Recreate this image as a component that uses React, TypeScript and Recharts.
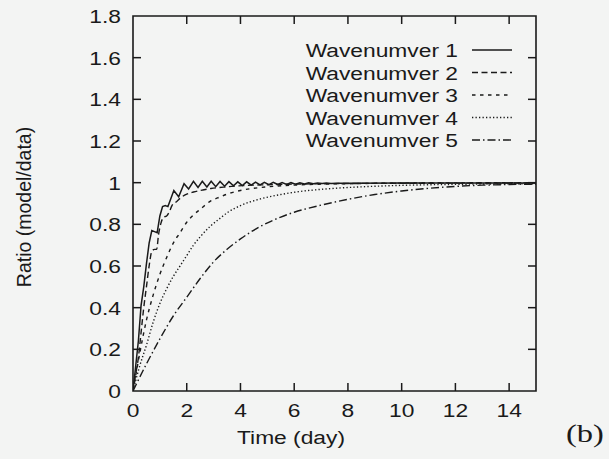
import React from 'react';
import { LineChart, Line, XAxis, YAxis, Legend, ReferenceArea } from 'recharts';

const seriesNames = ['Wavenumver 1', 'Wavenumver 2', 'Wavenumver 3', 'Wavenumver 4', 'Wavenumver 5'];

const wave1Time = [0, 0.1, 0.2, 0.3, 0.4, 0.5, 0.6, 0.7, 0.8, 0.9, 1.0, 1.1, 1.2, 1.3, 1.52, 1.7, 1.9, 2.07, 2.25, 2.42, 2.58, 2.75, 2.91, 3.08, 3.24, 3.41, 3.57, 3.74, 3.9, 4.07, 4.23, 4.4, 4.56, 4.73, 4.89, 5.06, 5.22, 5.39, 5.55, 5.72, 5.88, 6.05, 6.21, 6.38, 6.54, 6.71, 6.87, 7.04, 7.2, 7.37, 7.6, 8, 10, 12, 15];
const wave1Ratio = [0, 0.12, 0.24, 0.41, 0.5, 0.61, 0.71, 0.77, 0.765, 0.76, 0.84, 0.885, 0.89, 0.885, 0.962, 0.932, 0.995, 0.97, 1.006, 0.977, 1.007, 0.979, 1.007, 0.981, 1.006, 0.983, 1.005, 0.985, 1.004, 0.986, 1.004, 0.988, 1.003, 0.989, 1.002, 0.99, 1.002, 0.991, 1.001, 0.992, 1.0, 0.993, 0.999, 0.994, 0.999, 0.995, 0.998, 0.996, 0.998, 0.996, 0.997, 0.997, 0.998, 0.998, 0.999];

const wave2Time = [0, 0.1, 0.2, 0.3, 0.4, 0.5, 0.6, 0.7, 0.8, 0.88, 0.95, 1.05, 1.15, 1.25, 1.35, 1.45, 1.63, 1.8, 2.0, 2.25, 2.6, 2.9, 3.5, 4.1, 5, 6, 8, 10, 15];
const wave2Ratio = [0, 0.08, 0.16, 0.28, 0.4, 0.5, 0.6, 0.67, 0.68, 0.68, 0.75, 0.81, 0.835, 0.84, 0.86, 0.89, 0.91, 0.93, 0.945, 0.955, 0.965, 0.972, 0.98, 0.986, 0.99, 0.993, 0.996, 0.997, 0.999];

const wave3Time = [0, 0.25, 0.5, 0.75, 1.0, 1.25, 1.5, 1.75, 2.0, 2.25, 2.5, 2.87, 3.25, 3.5, 4.1, 5, 6, 7, 8, 10, 12, 15];
const wave3Ratio = [0, 0.18, 0.34, 0.46, 0.56, 0.64, 0.71, 0.76, 0.81, 0.845, 0.872, 0.91, 0.932, 0.945, 0.965, 0.98, 0.988, 0.993, 0.995, 0.998, 0.999, 1.0];

const wave4Time = [0, 0.25, 0.5, 0.75, 1.0, 1.25, 1.5, 1.75, 2.0, 2.25, 2.5, 2.87, 3.25, 3.5, 4, 4.74, 5.5, 6, 7, 8.5, 10, 12, 15];
const wave4Ratio = [0, 0.12, 0.22, 0.33, 0.42, 0.49, 0.55, 0.6, 0.65, 0.7, 0.74, 0.79, 0.83, 0.855, 0.89, 0.922, 0.943, 0.954, 0.968, 0.98, 0.987, 0.992, 0.995];

const wave5Time = [0, 0.5, 1.0, 1.5, 2.0, 2.5, 3.0, 3.5, 4.0, 4.74, 5.5, 6, 7, 8, 9, 10, 11, 12, 13, 14, 15];
const wave5Ratio = [0, 0.13, 0.25, 0.36, 0.45, 0.54, 0.62, 0.68, 0.73, 0.79, 0.835, 0.858, 0.892, 0.92, 0.943, 0.96, 0.973, 0.982, 0.988, 0.991, 0.993];

const xTicks = [0, 2, 4, 6, 8, 10, 12, 14];
const yTicks = [0, 0.2, 0.4, 0.6, 0.8, 1, 1.2, 1.4, 1.6, 1.8];

const zip = (ts: number[], vs: number[]) => ts.map((t, i) => ({ t, v: vs[i] }));
const series = [
  { name: seriesNames[0], data: zip(wave1Time, wave1Ratio), dash: undefined as string | undefined, type: 'linear', w: 1.5 },
  { name: seriesNames[1], data: zip(wave2Time, wave2Ratio), dash: '6 3.5', type: 'monotone', w: 1.4 },
  { name: seriesNames[2], data: zip(wave3Time, wave3Ratio), dash: '3.5 4.5', type: 'monotone', w: 1.4 },
  { name: seriesNames[3], data: zip(wave4Time, wave4Ratio), dash: '1.3 2.2', type: 'monotone', w: 1.4 },
  { name: seriesNames[4], data: zip(wave5Time, wave5Ratio), dash: '8 3 1.5 3', type: 'monotone', w: 1.4 },
];

const INK = '#1a1a1a';
const FONT = '"Liberation Sans", Arial, Helvetica, sans-serif';
const SX = 1.2;
const FS = 19;
const TICK = 8;
const CHART_W = 609;
const CHART_H = 459;
const M = { top: 16, right: 73, bottom: 0, left: 0 };
const X_AXIS_H = 68;
const Y_AXIS_W = 133;
const PLOT_LEFT = M.left + Y_AXIS_W;
const PLOT_RIGHT = CHART_W - M.right;
const PLOT_TOP = M.top;
const PLOT_BOTTOM = CHART_H - M.bottom - X_AXIS_H;

const BottomTick = (p: any) => {
  const { x, payload } = p;
  const edge = payload.value !== 0;
  return (
    <g>
      {edge && <line x1={x} y1={PLOT_BOTTOM} x2={x} y2={PLOT_BOTTOM - TICK} stroke={INK} strokeWidth={1.5} />}
      {edge && <line x1={x} y1={PLOT_TOP} x2={x} y2={PLOT_TOP + TICK} stroke={INK} strokeWidth={1.5} />}
      <text transform={`translate(${x},${PLOT_BOTTOM + 26}) scale(${SX},1)`} textAnchor="middle" fontSize={FS} fontFamily={FONT} fill={INK}>
        {String(payload.value)}
      </text>
    </g>
  );
};
const LeftTick = (p: any) => {
  const { y, payload } = p;
  const edge = payload.value !== 0 && payload.value !== 1.8;
  return (
    <g>
      {edge && <line x1={PLOT_LEFT} y1={y} x2={PLOT_LEFT + TICK} y2={y} stroke={INK} strokeWidth={1.5} />}
      {edge && <line x1={PLOT_RIGHT} y1={y} x2={PLOT_RIGHT - TICK} y2={y} stroke={INK} strokeWidth={1.5} />}
      <text transform={`translate(${PLOT_LEFT - 12},${y + 7}) scale(${SX},1)`} textAnchor="end" fontSize={FS} fontFamily={FONT} fill={INK}>
        {String(payload.value)}
      </text>
    </g>
  );
};

const XTitle = () => (
  <text transform={`translate(291,444) scale(${SX},1)`} textAnchor="middle" fontSize={FS} fontFamily={FONT} fill={INK}>
    Time (day)
  </text>
);
const YTitle = () => (
  <text transform="translate(31,207) rotate(-90)" textAnchor="middle" fontSize={19.5} fontFamily={FONT} fill={INK}>
    Ratio (model/data)
  </text>
);

const LegendBox = () => {
  const rowY = [12, 34.5, 57, 79.5, 102];
  return (
    <svg width={230} height={120} style={{ display: 'block' }}>
      {series.map((s, i) => (
        <g key={s.name}>
          <text transform={`translate(155,${rowY[i] + 7}) scale(${SX},1)`} textAnchor="end" fontSize={FS} fontFamily={FONT} fill={INK}>
            {s.name}
          </text>
          <line x1={169} y1={rowY[i]} x2={209} y2={rowY[i]} stroke={INK} strokeWidth={1.4} strokeDasharray={s.dash} />
        </g>
      ))}
    </svg>
  );
};

export default function App() {
  return (
    <div style={{ position: 'absolute', left: 0, top: 0, width: CHART_W, height: CHART_H, background: '#f3f4f3', overflow: 'hidden' }}>
      <LineChart width={CHART_W} height={CHART_H} margin={M}>
        <XAxis xAxisId="b" dataKey="t" type="number" domain={[0, 15]} ticks={xTicks} allowDataOverflow
          orientation="bottom" height={X_AXIS_H} tickLine={false} axisLine={false}
          tick={<BottomTick />} interval={0} label={<XTitle />} />
        <YAxis yAxisId="l" type="number" domain={[0, 1.8]} ticks={yTicks} allowDataOverflow
          orientation="left" width={Y_AXIS_W} tickLine={false} axisLine={false}
          tick={<LeftTick />} interval={0} label={<YTitle />} />
        <ReferenceArea xAxisId="b" yAxisId="l" x1={0} x2={15} y1={0} y2={1.8} fill="none" fillOpacity={0}
          stroke={INK} strokeWidth={1.6} ifOverflow="visible" />
        {series.map((s) => (
          <Line key={s.name} xAxisId="b" yAxisId="l" data={s.data} dataKey="v" name={s.name}
            type={s.type as any} stroke={INK} strokeWidth={s.w} strokeDasharray={s.dash}
            dot={false} activeDot={false} isAnimationActive={false} />
        ))}
        <Legend layout="vertical" align="center" verticalAlign="middle" content={<LegendBox />}
          wrapperStyle={{ left: 303, top: 38, width: 230, height: 120 }} />
      </LineChart>
      <div style={{ position: 'absolute', left: 566, top: 419, fontFamily: '"Liberation Serif", "Times New Roman", serif', fontSize: 26, color: INK, lineHeight: '30px', transform: 'scaleX(1.25)', transformOrigin: 'left top' }}>
        (b)
      </div>
    </div>
  );
}
